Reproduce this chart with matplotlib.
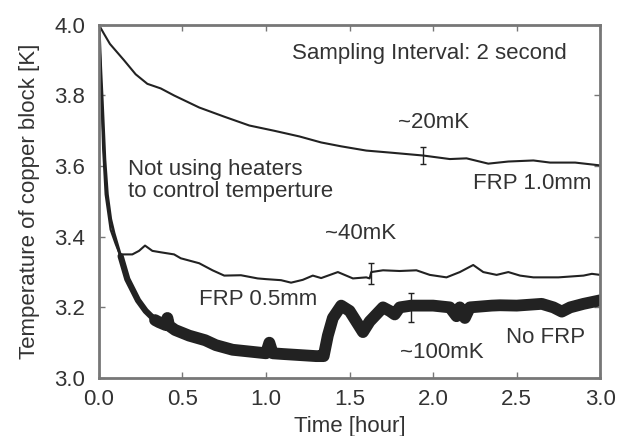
import matplotlib
matplotlib.use("Agg")
import matplotlib.pyplot as plt

plt.rcParams['font.family'] = ['Liberation Sans', 'DejaVu Sans']

# FRP 1.0mm
t_frp10 = [0, 0.03, 0.066, 0.15, 0.22, 0.29, 0.37, 0.45, 0.6, 0.75, 0.9, 1.05, 1.2, 1.33,
           1.45, 1.6, 1.75, 1.94, 2.1, 2.2, 2.33, 2.45, 2.6, 2.7, 2.85, 3.0]
T_frp10 = [4.0, 3.975, 3.946, 3.9, 3.86, 3.833, 3.82, 3.80, 3.766, 3.74, 3.715, 3.70, 3.684, 3.667,
           3.656, 3.644, 3.638, 3.63, 3.62, 3.622, 3.607, 3.613, 3.616, 3.61, 3.61, 3.602]

# FRP 0.5mm
t_frp05 = [0, 0.008, 0.015, 0.025, 0.04, 0.07, 0.1, 0.125, 0.2, 0.24, 0.276, 0.32, 0.37, 0.45,
           0.49, 0.6, 0.68, 0.75, 0.85, 0.95, 1.0, 1.09, 1.15, 1.22, 1.28, 1.33, 1.43, 1.52,
           1.6, 1.62, 1.63, 1.7, 1.8, 1.9, 1.98, 2.08, 2.16, 2.24, 2.3, 2.38, 2.45, 2.52,
           2.6, 2.75, 2.9, 2.95, 3.0]
T_frp05 = [4.0, 3.9, 3.8, 3.65, 3.52, 3.42, 3.38, 3.35, 3.35, 3.36, 3.375, 3.36, 3.356, 3.35,
           3.339, 3.325, 3.305, 3.29, 3.291, 3.282, 3.28, 3.277, 3.27, 3.278, 3.29, 3.283, 3.3, 3.282,
           3.285, 3.282, 3.3, 3.305, 3.303, 3.305, 3.292, 3.285, 3.3, 3.32, 3.3, 3.292, 3.3, 3.29,
           3.285, 3.285, 3.29, 3.295, 3.292]

# No FRP
t_nofrp = [0, 0.01, 0.02, 0.035, 0.05, 0.07, 0.09, 0.13, 0.17, 0.234, 0.28, 0.336, 0.36, 0.4,
           0.41, 0.42, 0.456, 0.54, 0.636, 0.7, 0.8, 0.9, 1.0, 1.02, 1.04, 1.1, 1.2, 1.3, 1.345,
           1.37, 1.4, 1.45, 1.5, 1.54, 1.58, 1.62, 1.65, 1.7, 1.74, 1.77, 1.8, 1.87, 2.0,
           2.1, 2.14, 2.16, 2.19, 2.22, 2.35, 2.4, 2.5, 2.65, 2.72, 2.77, 2.82, 2.9, 3.0]
T_nofrp = [4.0, 3.88, 3.78, 3.62, 3.52, 3.45, 3.41, 3.345, 3.28, 3.22, 3.19, 3.164, 3.158, 3.15,
           3.17, 3.148, 3.136, 3.12, 3.107, 3.093, 3.08, 3.075, 3.07, 3.1, 3.07, 3.068, 3.065, 3.062, 3.062,
           3.12, 3.17, 3.205, 3.19, 3.16, 3.13, 3.16, 3.175, 3.2, 3.19, 3.18, 3.2, 3.205, 3.205,
           3.2, 3.175, 3.2, 3.17, 3.2, 3.205, 3.206, 3.205, 3.21, 3.2, 3.188, 3.2, 3.21, 3.22]

# error bars (time, temperature, half-width)
err_t = [1.94, 1.626, 1.866]
err_T = [3.63, 3.296, 3.2]
err_d = [0.025, 0.03, 0.04]

ink = '#222222'
txt = '#333333'
gray = '#777777'

fig = plt.figure(figsize=(6.22, 4.36), dpi=100)
ax = fig.add_axes([0.159, 0.133, 0.806, 0.81])

ax.plot(t_frp10, T_frp10, color=ink, linewidth=1.5)
ax.plot(t_frp05, T_frp05, color=ink, linewidth=1.5)
# the noisy No FRP trace gets wider once it settles
ax.plot(t_nofrp[:8], T_nofrp[:8], color=ink, linewidth=2.2, solid_capstyle='round')
ax.plot(t_nofrp[7:12], T_nofrp[7:12], color=ink, linewidth=4.5, solid_capstyle='round',
        solid_joinstyle='round')
ax.plot(t_nofrp[11:], T_nofrp[11:], color=ink, linewidth=8.5, solid_capstyle='round',
        solid_joinstyle='round')
ax.errorbar(err_t, err_T, yerr=err_d, fmt='none', ecolor=ink, elinewidth=1, capsize=2)

fs = 16
ax.text(1.158, 3.918, 'Sampling Interval: 2 second', fontsize=fs, color=txt, ha='left', va='center')
ax.text(2.0, 3.723, '~20mK', fontsize=fs, color=txt, ha='center', va='center')
ax.text(0.174, 3.56, 'Not using heaters\nto control temperture', fontsize=fs, color=txt,
        ha='left', va='center', linespacing=1.05)
ax.text(2.946, 3.551, 'FRP 1.0mm', fontsize=fs, color=txt, ha='right', va='center')
ax.text(1.566, 3.41, '~40mK', fontsize=fs, color=txt, ha='center', va='center')
ax.text(0.954, 3.223, 'FRP 0.5mm', fontsize=fs, color=txt, ha='center', va='center')
ax.text(2.67, 3.116, 'No FRP', fontsize=fs, color=txt, ha='center', va='center')
ax.text(2.05, 3.073, '~100mK', fontsize=fs, color=txt, ha='center', va='center')

ax.set_xlim(0, 3.0)
ax.set_ylim(3.0, 4.0)
ax.set_xticks([0, 0.5, 1.0, 1.5, 2.0, 2.5, 3.0])
ax.set_yticks([3.0, 3.2, 3.4, 3.6, 3.8, 4.0])
ax.set_xticklabels(['0.0', '0.5', '1.0', '1.5', '2.0', '2.5', '3.0'])
ax.set_yticklabels(['3.0', '3.2', '3.4', '3.6', '3.8', '4.0'])
ax.tick_params(direction='in', top=True, right=True, length=4, width=1, color=gray,
               labelsize=fs, labelcolor=txt)
ax.tick_params(axis='x', pad=8)
ax.tick_params(axis='y', pad=10)
for s in ax.spines.values():
    s.set_color(gray)
    s.set_linewidth(2)

ax.set_xlabel('Time [hour]', fontsize=fs, color=txt, labelpad=4)
ax.set_ylabel('Temperature of copper block [K]', fontsize=fs, color=txt, labelpad=10)

fig.savefig('out.png', dpi=100)
